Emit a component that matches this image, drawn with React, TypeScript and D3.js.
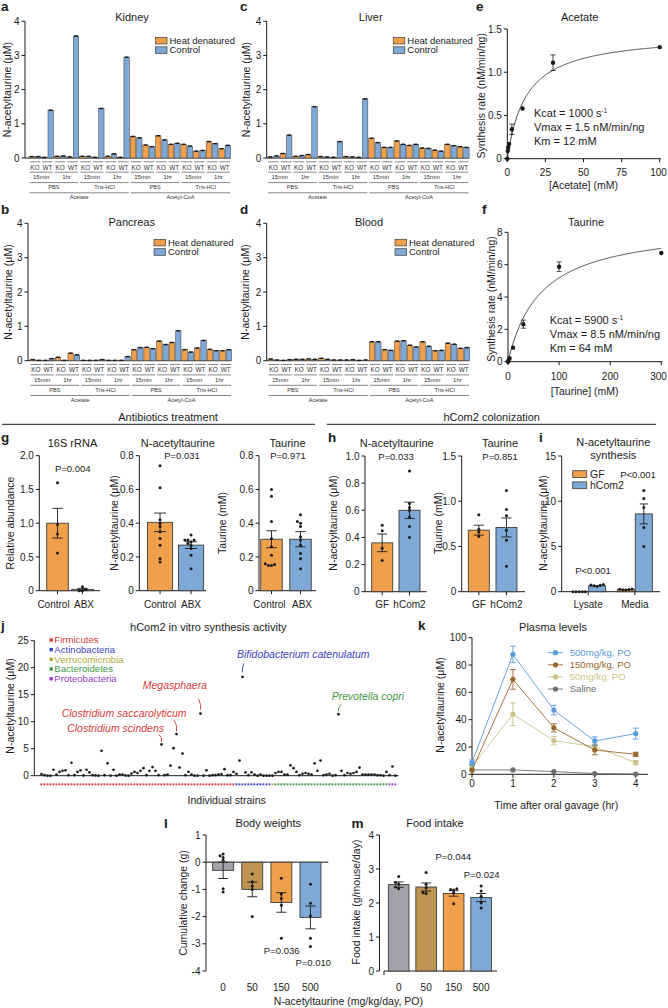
import React from "react";
import * as d3 from "d3";

const FONT = "'Liberation Sans', Arial, Helvetica, sans-serif";
const INK = "#1b1b1b";
const EDGE = "#3d3d3d";
const ORANGE = "#F0A04B";
const BLUE = "#7EA8D5";
const GRAYBAR = "#A2A2AA";
const BROWNBAR = "#BF9452";
const FS = 10.5;
const TFS = 10;
const CFS = 10;

// ===== a–d : tissue lysate synthesis =====
const genotypes = ["KO", "WT"];
const incubationTimes = ["15min", "1hr"];
const buffers = ["PBS", "Tris-HCl"];
const substrates = ["Acetate", "Acetyl-CoA"];
const treatments = ["Heat denatured", "Control"];
const tissueTicks = [0, 1, 2, 3, 4];
// order: substrate > buffer > time > genotype > [heat denatured, control]
const kidneyValues = [
  0.04, 0.04, 0.02, 1.4, 0.05, 0.06, 0.03, 3.57, 0.05, 0.05, 0.02, 1.45, 0.05, 0.12, 0.02, 2.95,
  0.63, 0.59, 0.38, 0.33, 0.65, 0.53, 0.4, 0.43, 0.4, 0.35, 0.2, 0.22, 0.48, 0.42, 0.27, 0.37,
];
const liverValues = [
  0.03, 0.06, 0.13, 0.67, 0.05, 0.07, 0.1, 1.5, 0.04, 0.03, 0.02, 0.48, 0.04, 0.03, 0.02, 1.73,
  0.58, 0.45, 0.31, 0.31, 0.5, 0.4, 0.37, 0.4, 0.29, 0.28, 0.23, 0.2, 0.4, 0.36, 0.33, 0.31,
];
const pancreasValues = [
  0.03, 0.01, 0.01, 0.06, 0.1, 0.01, 0.22, 0.17, 0.01, 0.01, 0.01, 0.03, 0.01, 0.01, 0.01, 0.12,
  0.32, 0.38, 0.39, 0.35, 0.57, 0.47, 0.53, 0.87, 0.32, 0.25, 0.37, 0.59, 0.33, 0.29, 0.29, 0.32,
];
const bloodValues = [
  0.05, 0.02, 0.01, 0.03, 0.04, 0.04, 0.05, 0.04, 0.07, 0.04, 0.02, 0.02, 0.02, 0.03, 0.01, 0.02,
  0.55, 0.55, 0.32, 0.3, 0.57, 0.58, 0.45, 0.4, 0.55, 0.42, 0.29, 0.3, 0.51, 0.48, 0.36, 0.38,
];

// ===== e–f : kinetics =====
const acetateConc = [0, 0.3, 0.6, 1.2, 3, 10, 30, 100];
const acetateRate = [0, 0.09, 0.13, 0.17, 0.34, 0.58, 1.11, 1.29];
const acetateSem = [0, 0.01, 0.01, 0.02, 0.06, 0.04, 0.09, 0.02];
const acetateFit = [1.45, 12.5];
const acetateParams = ["1000", "1.5", "12"];
const taurineConc = [0, 1, 3, 10, 30, 100, 300];
const taurineRate = [0, 0.08, 0.22, 0.87, 2.32, 5.87, 6.72];
const taurineSem = [0, 0.02, 0.05, 0.08, 0.25, 0.3, 0.1];
const taurineFit = [8.5, 64];
const taurineParams = ["5900", "8.5", "64"];

// ===== g =====
const abxGroups = ["Control", "ABX"];
const rrnaMean = [1.0, 0.02];
const rrnaSem = [0.22, 0.015];
const rrnaDots = [[1.6, 0.98, 0.84, 0.56], [0.06, 0.02, 0.0, 0.0]];
const abxNatMean = [0.405, 0.27];
const abxNatSem = [0.055, 0.02];
const abxNatDots = [
  [0.74, 0.61, 0.42, 0.4, 0.38, 0.35, 0.31, 0.27, 0.19, 0.17],
  [0.33, 0.3, 0.3, 0.3, 0.29, 0.28, 0.27, 0.25, 0.21, 0.13],
];
const abxTauMean = [0.305, 0.305];
const abxTauSem = [0.05, 0.045];
const abxTauDots = [
  [0.6, 0.56, 0.41, 0.31, 0.26, 0.21, 0.16, 0.155, 0.15, 0.15],
  [0.45, 0.41, 0.4, 0.38, 0.32, 0.3, 0.27, 0.22, 0.19, 0.13],
];

// ===== h =====
const colonGroups = ["GF", "hCom2"];
const colNatMean = [0.36, 0.6];
const colNatSem = [0.065, 0.06];
const colNatDots = [[0.49, 0.45, 0.32, 0.23], [0.89, 0.65, 0.62, 0.6, 0.55, 0.48, 0.4]];
const colTauMean = [0.68, 0.71];
const colTauSem = [0.055, 0.105];
const colTauDots = [[0.85, 0.69, 0.66, 0.61], [1.12, 0.91, 0.84, 0.68, 0.57, 0.28]];

// ===== i =====
const synthGroups = ["Lysate", "Media"];
const synthMean = [[0.0, 0.65], [0.25, 8.6]];
const synthSem = [[0.0, 0.05], [0.02, 1.1]];
const synthDots = [
  [[0, 0, 0, 0, 0], [0.8, 0.75, 0.7, 0.65, 0.6]],
  [[0.3, 0.28, 0.25, 0.22, 0.2], [11.2, 10.3, 9.3, 7.1, 5.0]],
];

// ===== j =====
const phyla = ["Firmicutes", "Actinobacteria", "Verrucomicrobia", "Bacteroidetes", "Proteobacteria"];
const phylumColors = ["#D63B3C", "#3E43BE", "#B3A83A", "#3F9A48", "#9A3FC0"];
const phylumCounts = [65, 12, 1, 38, 3];
const strainValues = [
  0.3, 0.1, 0, 0, 1.1, 0.2, 0.7, 0.9, 1.0, 0.1, 2.4, 0.1, 0.7, 1.0, 0.05, 1.1, 0.6, 0.1, 0.05, 0,
  4.6, 0.1, 2.3, 0, 1.1, 0, 0.2, 0.2, 0.05, 0, 0.4, 0.7, 0.5, 0.9, 1.4, 0.1, 0.9, 1.6, 0.9, 0.1,
  5.8, 0.1, 0.2, 1.85, 5.1, 7.7, 1.5, 4.1, 0.1, 0.7, 0.2, 0, 0, 11.5, 0, 1.0, 0, 0.1, 0.1, 0.2,
  0.3, 1.2, 0.1, 0.1, 0.7, 0.35, 2.8, 18.3, 0.6, 0.1, 0.6, 0.2, 0, 0.2, 0, 0, 0, 0, 0.5, 0.7,
  0.7, 0.2, 0.2, 1.9, 1.4, 0.7, 0.1, 0.35, 0.5, 0.35, 0.2, 2.3, 0.9, 2.8, 0.1, 0.2, 0.35, 0, 0.1, 11.4,
  0.9, 0.1, 0.5, 0.35, 0.5, 0.7, 1.5, 0.2, 0.2, 0.2, 0.2, 0.2, 0.1, 0.1, 0, 0.7, 0.1, 1.7, 0,
];
const highlightNames = ["Clostridium scindens", "Clostridium saccarolyticum", "Megasphaera", "Bifidobacterium catenulatum", "Prevotella copri"];
const highlightIdx = [40, 45, 53, 67, 99];
const highlightPhylum = [0, 0, 0, 1, 3];
// label offsets relative to the point: [dx, dy, anchor]
const highlightLabelPos = [[2.5, -12.7, "end"], [10, -17.4, "end"], [6.5, -24.5, "end"], [-5.5, -19, "start"], [-6.8, -14, "start"]];
const highlightLeader = [
  [[0, -2.5], [0, -6.5], [-2.5, -9.5]],
  [[0, -2.5], [0, -8.5], [-2.5, -14]],
  [[0, -4], [0, -9], [-2, -15]],
  [[0, -4.4], [0, -9], [1.6, -13.4]],
  [[0, -3], [0, -6], [2.7, -10]],
];

// ===== k =====
const plasmaTimes = [0, 1, 2, 3, 4];
const plasmaLabels = ["500mg/kg, PO", "150mg/kg, PO", "50mg/kg, PO", "Saline"];
const plasmaColors = ["#5A9BDB", "#98652C", "#CBC38A", "#6E6E6E"];
const plasma500 = [8.5, 87.8, 47, 24.4, 29.8];
const plasma500Sem = [2, 6, 3.5, 3, 4];
const plasma150 = [3.2, 69.5, 34, 17.8, 14.6];
const plasma150Sem = [1, 7.2, 3, 3.5, 1.5];
const plasma50 = [5.6, 44, 24.6, 20.2, 8.5];
const plasma50Sem = [1.5, 8.3, 3, 2, 1.5];
const plasmaSaline = [3.2, 3.2, 2, 0.5, 0.2];
const plasmaSalineSem = [0.5, 0.5, 0.5, 0.3, 0.2];

// ===== l–m =====
const doseGroups = ["0", "50", "150", "500"];
const doseColors = [GRAYBAR, BROWNBAR, ORANGE, BLUE];
const bwMean = [-0.3, -1.0, -1.48, -2.03];
const bwSem = [0.3, 0.27, 0.36, 0.42];
const bwDots = [
  [0.3, 0.24, 0.17, 0.07, -0.98, -1.1],
  [-0.43, -0.72, -0.88, -1.0, -2.0],
  [-0.59, -1.17, -1.33, -1.58, -2.8],
  [-0.81, -1.51, -1.97, -2.8, -3.1],
];
const foodMean = [2.54, 2.47, 2.28, 2.16];
const foodSem = [0.08, 0.12, 0.08, 0.12];
const foodDots = [
  [2.78, 2.6, 2.55, 2.47, 2.42],
  [2.9, 2.55, 2.45, 2.3, 2.28],
  [2.42, 2.4, 2.38, 2.3, 1.98],
  [2.5, 2.35, 2.2, 2.0, 1.85],
];

// ---------- helpers ----------
function beeswarm(values, y, minDist, step) {
  const order = values.map((_, i) => i).sort((a, b) => values[a] - values[b]);
  const placed = [];
  const out = new Array(values.length);
  const cands = [0];
  for (let j = 1; j < 12; j++) cands.push(-j * step, j * step);
  for (const i of order) {
    const py = y(values[i]);
    let ox = 0;
    for (const c of cands) {
      if (placed.every((p) => Math.hypot(p.x - c, p.y - py) >= minDist)) { ox = c; break; }
    }
    placed.push({ x: ox, y: py });
    out[i] = { dx: ox, y: py };
  }
  return out;
}

function YAxis({ x, scale, ticks, fmt, fs = TFS, len = 3.5 }) {
  const r = scale.range();
  return (
    <g>
      <line x1={x} x2={x} y1={r[0]} y2={r[1]} stroke={INK} strokeWidth={1} />
      {ticks.map((t) => (
        <g key={t}>
          <line x1={x - len} x2={x} y1={scale(t)} y2={scale(t)} stroke={INK} strokeWidth={1} />
          <text x={x - len - 2} y={scale(t)} dy="0.36em" textAnchor="end" fontSize={fs}>{fmt ? fmt(t) : String(t)}</text>
        </g>
      ))}
    </g>
  );
}

function VLabel({ x, y, text, fs = FS }) {
  return (
    <text transform={`translate(${x},${y}) rotate(-90)`} textAnchor="middle" dy="0.36em" fontSize={fs}>{text}</text>
  );
}

function Letter({ x, y, t }) {
  return <text x={x} y={y} fontSize={13.5} fontWeight="bold">{t}</text>;
}

const fmt1 = (t) => (t === 0 ? "0" : d3.format(".1f")(t));

// ---------- a–d ----------
function TissuePanel(p) {
  const { values, axisX, barStart, y0, yTop } = p;
  const step = 6.3;
  const n = values.length;
  const y = d3.scaleLinear().domain([0, 4]).range([y0, yTop]);
  const x = d3.scaleBand().domain(d3.range(n)).range([barStart, barStart + n * step]).paddingInner(0.14);
  const bw = x.bandwidth();
  const xEnd = barStart + n * step;
  const rows = [
    { size: 2, labels: genotypes, line: 3.8, text: 11.6, fs: 6.4 },
    { size: 4, labels: incubationTimes, line: 14.2, text: 21.4, fs: 6 },
    { size: 8, labels: buffers, line: 24.6, text: 31.4, fs: 5.6 },
    { size: 16, labels: substrates, line: 34.8, text: 41.4, fs: 5.6 },
  ];
  return (
    <g>
      <Letter x={p.letterX} y={p.letterY} t={p.letter} />
      <text x={p.titleX} y={p.titleY} fontSize={11} textAnchor="middle">{p.title}</text>
      <YAxis x={axisX} scale={y} ticks={tissueTicks} />
      <VLabel x={p.ylabelX} y={(y0 + yTop) / 2} text="N-acetyltaurine (μM)" />
      <line x1={axisX} x2={xEnd} y1={y0} y2={y0} stroke={INK} strokeWidth={1} />
      {values.map((v, i) => {
        const bx = x(i);
        return (
          <g key={i}>
            <rect x={bx} y={y(v)} width={bw} height={y0 - y(v)} fill={i % 2 === 0 ? ORANGE : BLUE} stroke={EDGE} strokeWidth={0.5} />
            <line x1={bx + 0.8} x2={bx + bw - 0.8} y1={y(v)} y2={y(v)} stroke={INK} strokeWidth={1.5} />
          </g>
        );
      })}
      {rows.map((r, ri) =>
        d3.range(n / r.size).map((g) => {
          const x1 = x(g * r.size) + 0.6;
          const x2 = x(g * r.size + r.size - 1) + bw - 0.6;
          return (
            <g key={ri + "-" + g}>
              <line x1={x1} x2={x2} y1={y0 + r.line} y2={y0 + r.line} stroke="#555" strokeWidth={0.7} />
              <text x={(x1 + x2) / 2} y={y0 + r.text} fontSize={r.fs} textAnchor="middle" fill="#333">{r.labels[g % 2]}</text>
            </g>
          );
        })
      )}
      {treatments.map((t, k) => (
        <g key={t}>
          <rect x={p.legendX} y={p.legendY + k * 9.4} width={11.5} height={6.6} fill={k === 0 ? ORANGE : BLUE} stroke={EDGE} strokeWidth={0.7} />
          <text x={p.legendX + 14} y={p.legendY + k * 9.4 + 6.6} fontSize={9.5}>{t}</text>
        </g>
      ))}
    </g>
  );
}

// ---------- e–f ----------
function KineticsPanel(p) {
  const x = d3.scaleLinear().domain([0, p.xMax]).range([p.axisX, p.xRight]);
  const y = d3.scaleLinear().domain([0, p.yMax]).range([p.y0, p.yTop]);
  const [vmax, km] = p.fit;
  const samples = d3.range(0, 301).map((k) => (k / 300) * p.xMax);
  const curve = d3.line().x((c) => x(c)).y((c) => y((vmax * c) / (km + c)))(samples);
  const lines = [
    <>Kcat = {p.params[0]} s<tspan dy={-4} fontSize={6.5}>-1</tspan></>,
    <>Vmax = {p.params[1]} nM/min/ng</>,
    <>Km = {p.params[2]} mM</>,
  ];
  return (
    <g>
      <Letter x={p.letterX} y={p.letterY} t={p.letter} />
      <text x={p.titleX} y={p.titleY} fontSize={11} textAnchor="middle">{p.title}</text>
      <YAxis x={p.axisX} scale={y} ticks={p.yTicks} fmt={p.yFmt} />
      <line x1={p.axisX} x2={p.xRight + 1} y1={p.y0} y2={p.y0} stroke={INK} strokeWidth={1} />
      {p.xTicks.map((t) => (
        <g key={t}>
          <line x1={x(t)} x2={x(t)} y1={p.y0} y2={p.y0 + 3.5} stroke={INK} />
          <text x={Math.min(x(t), 658.5)} y={p.tickY} textAnchor="middle" fontSize={TFS}>{t}</text>
        </g>
      ))}
      <path d={curve} fill="none" stroke={INK} strokeWidth={0.8} />
      {p.conc.map((c, i) => {
        const cx = x(c), cy = y(p.rate[i]);
        const lo = y(p.rate[i] - p.sem[i]), hi = y(p.rate[i] + p.sem[i]);
        return (
          <g key={i}>
            {p.sem[i] > 0.03 * p.yMax && (
              <g stroke={INK} strokeWidth={0.8}>
                <line x1={cx} x2={cx} y1={lo} y2={hi} />
                <line x1={cx - 2.5} x2={cx + 2.5} y1={lo} y2={lo} />
                <line x1={cx - 2.5} x2={cx + 2.5} y1={hi} y2={hi} />
              </g>
            )}
            <circle cx={cx} cy={cy} r={2.2} fill={INK} />
          </g>
        );
      })}
      <text x={(p.axisX + p.xRight) / 2} y={p.xlabelY} textAnchor="middle" fontSize={FS}>{p.xlabel}</text>
      <VLabel x={p.ylabelX} y={(p.y0 + p.yTop) / 2 + 2} text="Synthesis rate (nM/min/ng)" />
      {lines.map((l, k) => (
        <text key={k} x={p.textX} y={p.textY + k * 14} fontSize={11}>{l}</text>
      ))}
    </g>
  );
}

// ---------- generic bar + dots ----------
function BarDot(p) {
  const { y, cats } = p;
  const x = d3.scaleBand().domain(cats).range(p.range).paddingInner(p.padIn).paddingOuter(p.padOut);
  const bw = x.bandwidth();
  const base = y(0);
  const xStart = p.xStart ?? p.axisX;
  return (
    <g>
      <YAxis x={p.axisX} scale={y} ticks={p.ticks} fmt={p.fmt} />
      <line x1={xStart} x2={p.xEnd} y1={base} y2={base} stroke={INK} strokeWidth={1} />
      {p.startTick && <line x1={xStart} x2={xStart} y1={base} y2={base + 4} stroke={INK} />}
      {cats.map((c, i) => {
        const x0 = x(c);
        const cx = x0 + bw / 2;
        const m = p.means[i];
        const top = Math.min(y(m), base);
        const h = Math.abs(y(m) - base);
        const lo = y(m - p.sems[i]), hi = y(m + p.sems[i]);
        const sw = beeswarm(p.dots[i], y, 2.7, 3.1);
        return (
          <g key={c}>
            <rect x={x0} y={top} width={bw} height={h} fill={p.colors[i]} stroke={EDGE} strokeWidth={0.9} />
            <g stroke={INK} strokeWidth={0.9}>
              <line x1={cx} x2={cx} y1={lo} y2={hi} />
              <line x1={cx - bw * 0.24} x2={cx + bw * 0.24} y1={lo} y2={lo} />
              <line x1={cx - bw * 0.24} x2={cx + bw * 0.24} y1={hi} y2={hi} />
            </g>
            {sw.map((d, k) => <circle key={k} cx={cx + d.dx} cy={d.y} r={1.5} fill={INK} />)}
            {p.catTicks && <line x1={cx} x2={cx} y1={base} y2={base + 3.5} stroke={INK} />}
            <text x={cx + (p.labelShift ? p.labelShift[i] : 0)} y={p.catLabelY} textAnchor="middle" fontSize={CFS}>{c}</text>
          </g>
        );
      })}
    </g>
  );
}

// ---------- i ----------
function SynthesisPanel() {
  const axisX = 561.7;
  const y = d3.scaleLinear().domain([0, 15]).range([591.7, 456]);
  const gx = d3.scaleBand().domain(synthGroups).range([566, 657]).paddingInner(0.25).paddingOuter(0.1);
  const ix = d3.scaleBand().domain(colonGroups).range([0, gx.bandwidth()]).paddingInner(0.05);
  const bw = ix.bandwidth();
  const base = y(0);
  const colors = [ORANGE, BLUE];
  return (
    <g>
      <Letter x={539} y={441.7} t="i" />
      <text x={613.3} y={446} fontSize={11} textAnchor="middle">N-acetyltaurine</text>
      <text x={613.3} y={459} fontSize={11} textAnchor="middle">synthesis</text>
      <YAxis x={axisX} scale={y} ticks={[0, 5, 10, 15]} />
      <VLabel x={543.3} y={523} text="N-acetyltaurine (μM)" />
      <line x1={axisX} x2={660} y1={base} y2={base} stroke={INK} />
      {synthGroups.map((g, gi) => (
        <g key={g}>
          {colonGroups.map((c, ci) => {
            const x0 = gx(g) + ix(c);
            const cx = x0 + bw / 2;
            const m = synthMean[gi][ci];
            const s = synthSem[gi][ci];
            const sw = beeswarm(synthDots[gi][ci], y, 2.7, 3.1);
            return (
              <g key={c}>
                <rect x={x0} y={y(m)} width={bw} height={base - y(m)} fill={colors[ci]} stroke={EDGE} strokeWidth={0.9} />
                {s > 0.1 && (
                  <g stroke={INK} strokeWidth={0.9}>
                    <line x1={cx} x2={cx} y1={y(m - s)} y2={y(m + s)} />
                    <line x1={cx - bw * 0.24} x2={cx + bw * 0.24} y1={y(m - s)} y2={y(m - s)} />
                    <line x1={cx - bw * 0.24} x2={cx + bw * 0.24} y1={y(m + s)} y2={y(m + s)} />
                  </g>
                )}
                {sw.map((d, k) => <circle key={k} cx={cx + d.dx} cy={d.y} r={1.5} fill={INK} />)}
              </g>
            );
          })}
          <line x1={gx(g) + gx.bandwidth() / 2} x2={gx(g) + gx.bandwidth() / 2} y1={base} y2={base + 3.5} stroke={INK} />
          <text x={gx(g) + gx.bandwidth() / 2} y={607.5} textAnchor="middle" fontSize={CFS}>{g}</text>
        </g>
      ))}
      {colonGroups.map((c, k) => (
        <g key={c}>
          <rect x={572.7} y={470.7 + k * 11.2} width={14} height={6.8} fill={colors[k]} stroke={EDGE} strokeWidth={0.8} />
          <text x={590} y={477.5 + k * 11.2} fontSize={FS}>{c}</text>
        </g>
      ))}
      <text x={638} y={477.5} textAnchor="middle" fontSize={9.5}>P&lt;0.001</text>
      <text x={593} y={573.5} textAnchor="middle" fontSize={9.5}>P&lt;0.001</text>
    </g>
  );
}

// ---------- j ----------
function StrainPanel() {
  const n = strainValues.length;
  const x = d3.scaleBand().domain(d3.range(n)).range([40, 397]);
  const y = d3.scaleLinear().domain([0, 25]).range([775.7, 640.7]);
  const phylumOf = [];
  phylumCounts.forEach((c, k) => d3.range(c).forEach(() => phylumOf.push(k)));
  const cx = (i) => x(i) + x.bandwidth() / 2;
  return (
    <g>
      <Letter x={1} y={630} t="j" />
      <text x={208.3} y={630.5} fontSize={11} textAnchor="middle">hCom2 in vitro synthesis activity</text>
      <YAxis x={34.3} scale={y} ticks={[0, 5, 10, 15, 20, 25]} />
      <VLabel x={10} y={706} text="N-acetyltaurine (μM)" />
      <line x1={34.3} x2={398.5} y1={y(0)} y2={y(0)} stroke={INK} />
      {strainValues.map((v, i) => (
        <rect key={"s" + i} x={x(i) + 0.4} y={783.4} width={x.bandwidth() - 1.1} height={1.9} fill={phylumColors[phylumOf[i]]} />
      ))}
      {strainValues.map((v, i) => (
        <circle key={"p" + i} cx={cx(i)} cy={y(v)} r={1.35} fill={INK} />
      ))}
      {highlightIdx.map((idx, k) => {
        const px = cx(idx), py = y(strainValues[idx]);
        const [dx, dy, anchor] = highlightLabelPos[k];
        const col = phylumColors[highlightPhylum[k]];
        const pts = highlightLeader[k].map(([a, b]) => [px + a, py + b]);
        return (
          <g key={k}>
            <path d={d3.line()(pts)} fill="none" stroke={col} strokeWidth={0.9} />
            <text x={px + dx} y={py + dy} textAnchor={anchor} fontSize={FS} fontStyle="italic" fill={col}>{highlightNames[k]}</text>
          </g>
        );
      })}
      {phyla.map((ph, k) => (
        <g key={ph}>
          <rect x={49.5} y={638.3 + k * 9.68} width={3.4} height={3.4} fill={phylumColors[k]} />
          <text x={54.3} y={643.4 + k * 9.68} fontSize={9.6} fill={phylumColors[k]}>{ph}</text>
        </g>
      ))}
      <text x={226.7} y={803.5} textAnchor="middle" fontSize={FS}>Individual strains</text>
    </g>
  );
}

// ---------- k ----------
function PlasmaPanel() {
  const x = d3.scaleLinear().domain([0, 4]).range([472, 635.7]);
  const y = d3.scaleLinear().domain([0, 100]).range([774.3, 637.7]);
  const series = [
    [plasma500, plasma500Sem],
    [plasma150, plasma150Sem],
    [plasma50, plasma50Sem],
    [plasmaSaline, plasmaSalineSem],
  ];
  const line = d3.line().x((d) => x(d[0])).y((d) => y(d[1]));
  const order = [3, 2, 1, 0];
  return (
    <g>
      <Letter x={418} y={630} t="k" />
      <text x={553} y={630.5} fontSize={11} textAnchor="middle">Plasma levels</text>
      <YAxis x={472} scale={y} ticks={[0, 20, 40, 60, 80, 100]} />
      <VLabel x={440} y={705} text="N-acetyltaurine (μM)" />
      <line x1={472} x2={648} y1={y(0)} y2={y(0)} stroke={INK} />
      {plasmaTimes.map((t) => (
        <g key={t}>
          <line x1={x(t)} x2={x(t)} y1={y(0)} y2={y(0) + 3.5} stroke={INK} />
          <text x={x(t)} y={786.5} textAnchor="middle" fontSize={TFS}>{t}</text>
        </g>
      ))}
      <text x={556.3} y={808.5} textAnchor="middle" fontSize={FS}>Time after oral gavage (hr)</text>
      {order.map((k) => {
        const [vals, sems] = series[k];
        const col = plasmaColors[k];
        return (
          <g key={k}>
            <path d={line(plasmaTimes.map((t, i) => [t, vals[i]]))} fill="none" stroke={col} strokeWidth={0.9} />
            {plasmaTimes.map((t, i) => (
              <g key={t}>
                {sems[i] > 1.2 && (
                  <g stroke={col} strokeWidth={0.9}>
                    <line x1={x(t)} x2={x(t)} y1={y(vals[i] - sems[i])} y2={y(vals[i] + sems[i])} />
                    <line x1={x(t) - 3} x2={x(t) + 3} y1={y(vals[i] - sems[i])} y2={y(vals[i] - sems[i])} />
                    <line x1={x(t) - 3} x2={x(t) + 3} y1={y(vals[i] + sems[i])} y2={y(vals[i] + sems[i])} />
                  </g>
                )}
                <circle cx={x(t)} cy={y(vals[i])} r={2.6} fill={col} />
              </g>
            ))}
          </g>
        );
      })}
      {plasmaLabels.map((l, k) => (
        <g key={l}>
          <line x1={548} x2={563} y1={652.7 + k * 12.1} y2={652.7 + k * 12.1} stroke={plasmaColors[k]} strokeWidth={0.9} />
          <circle cx={555.5} cy={652.7 + k * 12.1} r={2.6} fill={plasmaColors[k]} />
          <text x={569.7} y={656 + k * 12.1} fontSize={9.6} fill={plasmaColors[k]}>{l}</text>
        </g>
      ))}
    </g>
  );
}

export default function App() {
  const yG1 = d3.scaleLinear().domain([0, 2]).range([590.7, 455.7]);
  const yG2 = d3.scaleLinear().domain([0, 0.8]).range([590.7, 455.7]);
  const yH1 = d3.scaleLinear().domain([0, 1]).range([591.7, 456]);
  const yH2 = d3.scaleLinear().domain([0, 1.5]).range([591.7, 456]);
  const yL = d3.scaleLinear().domain([-4, 1]).range([971, 835]);
  const yM = d3.scaleLinear().domain([0, 4]).range([971, 835]);
  return (
    <div style={{ position: "absolute", left: 0, top: 0, width: 668, height: 1008, background: "#fff" }}>
      <svg width={668} height={1008} fontFamily={FONT} fill={INK} style={{ display: "block" }}>
        <TissuePanel letter="a" letterX={1} letterY={11} title="Kidney" titleX={132} titleY={20.5}
          axisX={25} barStart={29} y0={158} yTop={21.3} values={kidneyValues}
          legendX={155.5} legendY={37.4} ylabelX={7.5} />
        <TissuePanel letter="c" letterX={240} letterY={11} title="Liver" titleX={370.7} titleY={20.5}
          axisX={266.7} barStart={267.5} y0={158} yTop={21.3} values={liverValues}
          legendX={393.3} legendY={37.4} ylabelX={246.7} />
        <TissuePanel letter="b" letterX={1} letterY={214} title="Pancreas" titleX={131.7} titleY={226}
          axisX={28} barStart={30} y0={360.7} yTop={223.3} values={pancreasValues}
          legendX={154} legendY={239.3} ylabelX={8.5} />
        <TissuePanel letter="d" letterX={240} letterY={214} title="Blood" titleX={369} titleY={226}
          axisX={266.7} barStart={268} y0={360.7} yTop={223.3} values={bloodValues}
          legendX={395} legendY={239.3} ylabelX={245.7} />

        <KineticsPanel letter="e" letterX={476} letterY={11} title="Acetate" titleX={579.7} titleY={20.5}
          axisX={507.3} xRight={659.7} xMax={100} xTicks={[0, 25, 50, 75, 100]} tickY={176.3}
          y0={158.7} yTop={29} yMax={1.5} yTicks={[0, 0.5, 1, 1.5]} yFmt={fmt1}
          conc={acetateConc} rate={acetateRate} sem={acetateSem} fit={acetateFit} params={acetateParams}
          xlabel="[Acetate] (mM)" xlabelY={189} ylabelX={481.5} textX={534} textY={116.5} />
        <KineticsPanel letter="f" letterX={482} letterY={214} title="Taurine" titleX={586} titleY={225.5}
          axisX={508} xRight={661.3} xMax={300} xTicks={[0, 100, 200, 300]} tickY={379.5}
          y0={361.7} yTop={232.3} yMax={8} yTicks={[0, 2, 4, 6, 8]}
          conc={taurineConc} rate={taurineRate} sem={taurineSem} fit={taurineFit} params={taurineParams}
          xlabel="[Taurine] (mM)" xlabelY={394.5} ylabelX={491} textX={549.7} textY={323.5} />

        {/* section headers */}
        <text x={168} y={420.5} fontSize={11} textAnchor="middle">Antibiotics treatment</text>
        <line x1={2} x2={315} y1={424.3} y2={424.3} stroke={INK} strokeWidth={1} />
        <text x={491.7} y={420.5} fontSize={11} textAnchor="middle">hCom2 colonization</text>
        <line x1={326.7} x2={656} y1={424.3} y2={424.3} stroke={INK} strokeWidth={1} />

        {/* g */}
        <Letter x={1} y={441.7} t="g" />
        <text x={72.5} y={446.5} fontSize={11} textAnchor="middle">16S rRNA</text>
        <text x={72.8} y={471.6} fontSize={9.5} textAnchor="middle">P=0.004</text>
        <VLabel x={10} y={523} text="Relative abundance" />
        <BarDot axisX={39.3} xEnd={100} y={yG1} ticks={[0, 0.5, 1, 1.5, 2]} fmt={fmt1} cats={abxGroups}
          range={[41.7, 98.3]} padIn={0.135} padOut={0.2} means={rrnaMean} sems={rrnaSem} dots={rrnaDots}
          colors={[ORANGE, BLUE]} catLabelY={607.5} catTicks={true} labelShift={[-4, 1.5]} />
        <text x={177.8} y={446.5} fontSize={11} textAnchor="middle">N-acetyltaurine</text>
        <text x={182} y={458.5} fontSize={9.5} textAnchor="middle">P=0.031</text>
        <VLabel x={114} y={523} text="N-acetyltaurine (μM)" />
        <BarDot axisX={139.3} xEnd={206} y={yG2} ticks={[0, 0.2, 0.4, 0.6, 0.8]} fmt={fmt1} cats={abxGroups}
          range={[141.3, 209.8]} padIn={0.19} padOut={0.2} means={abxNatMean} sems={abxNatSem} dots={abxNatDots}
          colors={[ORANGE, BLUE]} catLabelY={607.5} catTicks={true} />
        <text x={287.5} y={446.5} fontSize={11} textAnchor="middle">Taurine</text>
        <text x={288} y={458.5} fontSize={9.5} textAnchor="middle">P=0.971</text>
        <VLabel x={222} y={523} text="Taurine (mM)" />
        <BarDot axisX={259} xEnd={316} y={yG2} ticks={[0, 0.2, 0.4, 0.6, 0.8]} fmt={fmt1} cats={abxGroups}
          range={[259.3, 312.7]} padIn={0.26} padOut={0.05} means={abxTauMean} sems={abxTauSem} dots={abxTauDots}
          colors={[ORANGE, BLUE]} catLabelY={607.5} catTicks={true} labelShift={[-2, 1.5]} />

        {/* h */}
        <Letter x={328} y={441.7} t="h" />
        <text x={396.7} y={446.5} fontSize={11} textAnchor="middle">N-acetyltaurine</text>
        <text x={396} y={459.5} fontSize={9.5} textAnchor="middle">P=0.033</text>
        <VLabel x={333.3} y={523} text="N-acetyltaurine (μM)" />
        <BarDot axisX={365} xEnd={426.7} y={yH1} ticks={[0, 0.2, 0.4, 0.6, 0.8, 1]} fmt={fmt1} cats={colonGroups}
          range={[367.6, 424.1]} padIn={0.23} padOut={0.15} means={colNatMean} sems={colNatSem} dots={colNatDots}
          colors={[ORANGE, BLUE]} catLabelY={607.5} catTicks={true} />
        <text x={500} y={446.5} fontSize={11} textAnchor="middle">Taurine</text>
        <text x={500} y={459.5} fontSize={9.5} textAnchor="middle">P=0.851</text>
        <VLabel x={438} y={523} text="Taurine (mM)" />
        <BarDot axisX={461.7} xEnd={525} y={yH2} ticks={[0, 0.5, 1, 1.5]} fmt={fmt1} cats={colonGroups}
          range={[464.2, 521.1]} padIn={0.24} padOut={0.15} means={colTauMean} sems={colTauSem} dots={colTauDots}
          colors={[ORANGE, BLUE]} catLabelY={607.5} catTicks={true} />

        <SynthesisPanel />
        <StrainPanel />
        <PlasmaPanel />

        {/* l */}
        <Letter x={164} y={828} t="l" />
        <text x={268.3} y={826.8} fontSize={11} textAnchor="middle">Body weights</text>
        <VLabel x={183} y={903} text="Cumulative change (g)" />
        <BarDot axisX={206} xEnd={328.3} y={yL} ticks={[1, 0, -1, -2, -3, -4]} cats={doseGroups}
          range={[208.6, 325]} padIn={0.28} padOut={0.14} means={bwMean} sems={bwSem} dots={bwDots}
          colors={doseColors} catLabelY={990.5} catTicks={false} />
        <text x={281.7} y={954} fontSize={9.5} textAnchor="middle">P=0.036</text>
        <text x={313.3} y={965.5} fontSize={9.5} textAnchor="middle">P=0.010</text>

        {/* m */}
        <Letter x={351.5} y={828} t="m" />
        <text x={435} y={826.8} fontSize={11} textAnchor="middle">Food intake</text>
        <VLabel x={356} y={902} text="Food intake (g/mouse/day)" />
        <BarDot axisX={379.5} xStart={384} startTick={true} xEnd={497} y={yM} ticks={[0, 1, 2, 3, 4]} cats={doseGroups}
          range={[384.5, 495.3]} padIn={0.25} padOut={0.14} means={foodMean} sems={foodSem} dots={foodDots}
          colors={doseColors} catLabelY={990.5} catTicks={false} />
        <text x={453.3} y={860} fontSize={9.5} textAnchor="middle">P=0.044</text>
        <text x={481.7} y={878} fontSize={9.5} textAnchor="middle">P=0.024</text>

        <text x={348.3} y={1004.5} fontSize={FS} textAnchor="middle">N-acetyltaurine (mg/kg/day, PO)</text>
      </svg>
    </div>
  );
}
